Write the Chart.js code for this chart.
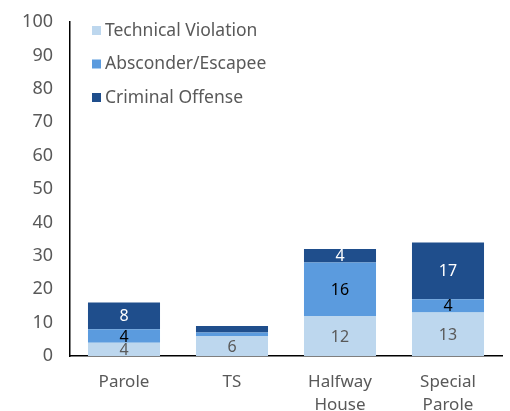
<!DOCTYPE html>
<html>
<head>
<meta charset="utf-8">
<script src="https://cdn.jsdelivr.net/npm/chart.js@4"></script>
<style>
  html, body { margin: 0; padding: 0; background: #fff; }
  #wrap { width: 510px; height: 411px; position: relative; }
</style>
</head>
<body>
<div id="wrap"><canvas id="chart"></canvas></div>
<script>
const categories = [['Parole'], ['TS'], ['Halfway', 'House'], ['Special', 'Parole']];
const technicalViolation = [4, 6, 12, 13];
const absconderEscapee = [4, 1, 16, 4];
const criminalOffense = [8, 2, 4, 17];
const yTicks = [0, 10, 20, 30, 40, 50, 60, 70, 80, 90, 100];

const FONT = '"Noto Sans", sans-serif';
const GREY = '#595959';

// value labels in the middle of each segment
const segmentLabels = {
  id: 'segmentLabels',
  afterDatasetsDraw(chart) {
    const ctx = chart.ctx;
    ctx.save();
    ctx.font = '16px ' + FONT;
    ctx.textAlign = 'center';
    ctx.textBaseline = 'middle';
    chart.data.datasets.forEach((ds, i) => {
      const meta = chart.getDatasetMeta(i);
      meta.data.forEach((bar, j) => {
        const v = ds.data[j];
        if (!v || v < 3) return;
        ctx.fillStyle = ds.labelColor;
        ctx.fillText(v, bar.x, (bar.y + bar.base) / 2 + 1);
      });
    });
    ctx.restore();
  }
};

// legend stacked in the upper left of the plot
const boxLegend = {
  id: 'boxLegend',
  afterDraw(chart) {
    const ctx = chart.ctx;
    ctx.save();
    ctx.font = '17.5px ' + FONT;
    ctx.textBaseline = 'middle';
    chart.data.datasets.forEach((ds, i) => {
      const y = 31 + i * 33.5;
      ctx.fillStyle = ds.backgroundColor;
      ctx.fillRect(92, y - 5, 9, 9);
      ctx.fillStyle = GREY;
      ctx.fillText(ds.label, 105, y);
    });
    ctx.restore();
  }
};

new Chart(document.getElementById('chart'), {
  type: 'bar',
  data: {
    labels: categories,
    datasets: [
      { label: 'Technical Violation', data: technicalViolation, backgroundColor: '#BDD7EE', labelColor: GREY },
      { label: 'Absconder/Escapee', data: absconderEscapee, backgroundColor: '#5B9BDE', labelColor: '#000' },
      { label: 'Criminal Offense', data: criminalOffense, backgroundColor: '#1F4E8C', labelColor: '#fff' }
    ]
  },
  options: {
    responsive: true,
    maintainAspectRatio: false,
    animation: false,
    layout: { padding: { top: 22, right: 8, left: 0, bottom: 0 } },
    datasets: { bar: { categoryPercentage: 0.667, barPercentage: 1 } },
    plugins: { legend: { display: false }, tooltip: { enabled: false } },
    scales: {
      x: {
        stacked: true,
        grid: { display: false, drawTicks: false },
        border: { color: '#000', width: 1.5 },
        ticks: { color: GREY, font: { family: FONT, size: 17, lineHeight: 1.35 }, padding: 15, maxRotation: 0 },
        afterFit: s => { s.height = 55; }
      },
      y: {
        stacked: true,
        min: 0,
        max: 100,
        afterBuildTicks: s => { s.ticks = yTicks.map(v => ({ value: v })); },
        grid: { display: false, drawTicks: false },
        border: { color: '#000', width: 1.5 },
        ticks: { color: GREY, font: { family: FONT, size: 18 }, padding: 17 },
        afterFit: s => { s.width = 70; s.paddingTop = 0; s.paddingBottom = 0; }
      }
    }
  },
  plugins: [segmentLabels, boxLegend]
});
</script>
</body>
</html>
